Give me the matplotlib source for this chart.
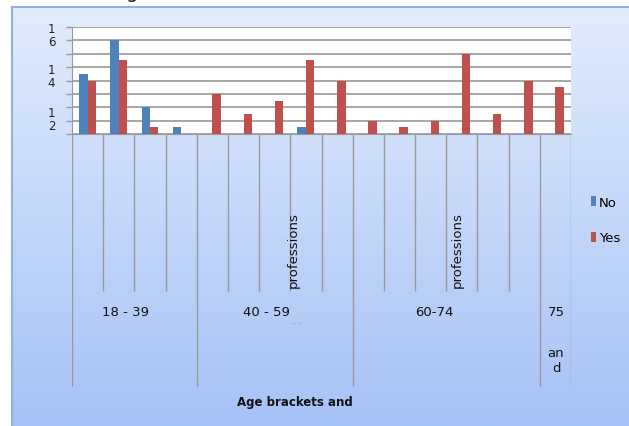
import numpy as np
import matplotlib
matplotlib.use('Agg')
import matplotlib.pyplot as plt
from matplotlib.colors import LinearSegmentedColormap

plt.rcParams['font.family'] = ['DejaVu Sans']

# Data (16 sub-categories, 4 age brackets)
no_values = [9, 14, 4, 1, 0, 0, 0, 1, 0, 0, 0, 0, 0, 0, 0, 0]
yes_values = [8, 11, 1, 0, 6, 3, 5, 11, 8, 2, 1, 2, 12, 3, 8, 7]
group_labels = ['18 - 39', '40 - 59', '60-74', '75']
group_sizes = [4, 5, 6, 1]
ytick_labels = ['1\n6', '1\n4', '1\n2']

W, H = 629, 427
fig = plt.figure(figsize=(W / 100, H / 100), dpi=100)
fig.patch.set_facecolor('white')

# Chart area with blue gradient
bg = fig.add_axes([12 / W, 0, 1 - 12 / W, 1 - 8 / H], zorder=-5)
cmap = LinearSegmentedColormap.from_list('bg', ['#e2ecfc', '#a6c2f6'])
bg.imshow(np.linspace(0, 1, 256).reshape(-1, 1), aspect='auto', cmap=cmap,
          extent=(0, 1, 0, 1))
bg.set_xticks([])
bg.set_yticks([])
for s in bg.spines.values():
    s.set_visible(False)
bg.spines['left'].set_visible(True)
bg.spines['top'].set_visible(True)
bg.spines['left'].set_color('#8fb1e6')
bg.spines['top'].set_color('#8fb1e6')
bg.spines['left'].set_linewidth(1.5)
bg.spines['top'].set_linewidth(1.5)

# Plot area
left, right, top, bot = 72, 571, 28, 135
ax = fig.add_axes([left / W, 1 - bot / H, (right - left) / W, (bot - top) / H])
ax.set_facecolor('white')
x = np.arange(len(yes_values))
bw = 0.27
ax.bar(x - bw / 2, no_values, bw, color='#4f81bd', label='No', zorder=3)
ax.bar(x + bw / 2, yes_values, bw, color='#c0504d', label='Yes', zorder=3)
ax.set_xlim(-0.5, len(x) - 0.5)
ax.set_ylim(0, 16)
ax.set_yticks(np.arange(0, 17, 2), labels=[''] * 9)
ax.set_yticks([15.1, 8.9, 2.5], labels=ytick_labels, minor=True)
ax.tick_params(axis='y', which='major', length=4, color='#999999', width=1)
ax.tick_params(axis='y', which='minor', length=0, pad=12, labelsize=8.5)
for t in ax.get_yticklabels(minor=True):
    t.set_linespacing(1.0)
    t.set_color('#222222')
ax.set_xticks([])
ax.grid(axis='y', color='#a6a6a6', linewidth=1.4, zorder=0)
for s in ['top', 'right']:
    ax.spines[s].set_visible(False)
ax.spines['left'].set_color('#999999')
ax.spines['bottom'].set_color('#999999')

# Category axis area below the plot
cax = fig.add_axes([left / W, 1 - 388 / H, (right - left) / W, (388 - bot) / H])
cax.patch.set_visible(False)
cax.set_xlim(-0.5, len(x) - 0.5)
cax.set_ylim(388 - bot, 0)
cax.axis('off')
bounds = np.arange(len(x) + 1) - 0.5
group_edges = np.concatenate([[0], np.cumsum(group_sizes)]) - 0.5
inner = [b for b in bounds if not np.any(np.isclose(b, group_edges))]
cax.vlines(inner, 0, 157, color='#9a9a9a', linewidth=1)
cax.vlines(group_edges, 0, 253, color='#9a9a9a', linewidth=1)

label_x = [1.22, 5.75, 11.11, 15.02]
for lx, lab in zip(label_x, group_labels):
    cax.text(lx, 178, lab, ha='center', va='center', fontsize=9.5, color='#111111')
cax.text(15.02, 226, 'an\nd', ha='center', va='center', fontsize=9.5,
         linespacing=1.25, color='#111111')
cax.text(6.72, 186, '. .', ha='center', va='center', fontsize=6, color='#555555')
for px in [6.59, 11.84]:
    cax.text(px, 153, 'professions', rotation=90, ha='center', va='bottom',
             fontsize=9.5, color='#111111')
cax.text(6.65, 268, 'Age brackets and', ha='center', va='center',
         fontsize=8.5, fontweight='bold', color='#111111')

# Legend
handles, labels = ax.get_legend_handles_labels()
fig.legend(handles, labels, loc='center left', bbox_to_anchor=(591 / W, 1 - 221 / H),
           frameon=False, fontsize=9.5, handlelength=0.4, handleheight=0.8,
           handletextpad=0.2, labelspacing=1.7, borderaxespad=0, borderpad=0)

# Cut-off text from the page above
fig.text(132 / W, 1.004, 'g', ha='center', va='baseline', fontsize=14, color='#222222')

fig.savefig('out.png', dpi=100)
